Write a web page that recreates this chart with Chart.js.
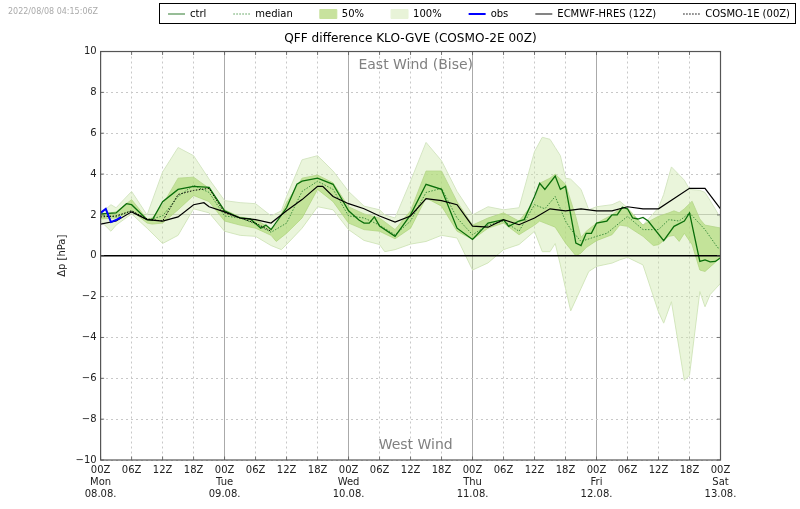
<![CDATA[<!DOCTYPE html>
<html><head><meta charset="utf-8">
<style>html,body{margin:0;padding:0;background:#fff}canvas{display:block}</style>
<script src="https://cdn.jsdelivr.net/npm/chart.js@4"></script></head>
<body><canvas id="c" width="800" height="509"></canvas>
<script>
const hours100=[0,2,3,6,9,12,15,18,21,24,27,30,33,35,36,39,42,45,48,51,54,55,57,60,63,66,69,72,75,78,81,84,85.5,87,88,89,90,91,93,94.5,96,99,100.5,102,105,108,109,110.5,113,114,116,117,118,120];
const top100=[2.05,2.5,2.35,3.15,2.0,4.1,5.3,4.9,3.75,2.7,2.6,2.55,1.95,2.2,2.9,4.7,4.9,4.15,3.15,2.43,2.25,2.0,1.85,3.65,5.55,4.65,3.15,2.0,2.4,2.25,2.35,5.1,5.8,5.7,5.3,4.9,3.8,3.75,3.25,2.25,2.4,2.5,2.67,2.35,1.5,2.35,3.0,4.35,3.7,3.25,3.2,3.1,2.7,1.85];
const bot100=[1.7,1.2,1.5,2.05,1.35,0.6,1.0,2.3,2.1,1.2,1.0,0.95,0.5,0.3,0.55,1.35,2.4,2.25,1.28,0.75,0.55,0.2,0.3,0.57,0.7,1.0,0.87,-0.7,-0.35,0.3,0.55,1.2,0.2,0.2,0.6,-0.45,-1.6,-2.7,-1.6,-0.77,-0.52,-0.36,-0.2,-0.08,-0.45,-2.75,-3.3,-2.25,-6.1,-5.85,-1.75,-2.5,-1.9,-1.35];
const hours50=[0,3,6,9,10,12,15,18,21,24,27,30,33,34,36,39,42,45,48,51,54,57,60,63,66,69,72,75,78,81,84,85,87,88,90,92,93,94,96,99,100.5,102,105,107,108,110,111,112,113,114.5,116,117,120];
const top50=[2.0,2.15,2.75,1.8,1.85,2.5,3.8,3.85,3.3,2.25,1.9,1.77,1.33,1.5,2.6,3.8,3.95,3.57,2.4,2.05,1.85,1.28,2.2,4.15,4.15,2.65,1.5,1.85,2.1,1.7,2.65,3.55,3.8,4.0,3.5,1.9,0.9,1.2,1.6,2.0,2.3,2.3,1.5,1.8,1.93,2.1,2.2,2.1,2.3,2.67,1.8,1.5,1.36];
const bot50=[1.8,1.85,2.2,1.6,1.55,1.6,2.25,2.95,2.65,1.7,1.5,1.35,1.0,0.7,1.1,1.85,3.25,2.65,1.6,1.28,1.2,0.83,1.35,2.83,2.43,1.2,0.8,1.35,1.6,1.03,1.5,1.7,1.5,1.4,0.62,0,0.13,0.4,0.74,1.03,1.5,1.44,0.95,0.5,0.54,0.95,1.0,0.7,1.1,0.54,-0.7,-0.77,-0.1];
const ctrlHours=[0,3,5,6,9,10,12,15,18,21,24,27,29,31,32,33,36,38,39,42,45,48,50,51,52,53,54,57,60,63,66,69,72,75,78,79,81,82,84,85,86,88,89,90,92,93,94,95,96,98,99,100,101,102,103,104,105,106,109,111,113,114,116,117,118,119,120];
const ctrl=[2.05,2.1,2.55,2.5,1.77,1.75,2.65,3.25,3.4,3.35,2.2,1.85,1.8,1.35,1.5,1.28,2.35,3.5,3.65,3.8,3.5,2.2,1.75,1.6,1.6,1.9,1.45,0.95,2.0,3.5,3.25,1.35,0.8,1.6,1.77,1.44,1.7,1.77,2.9,3.55,3.25,3.9,3.25,3.4,0.62,0.5,1.1,1.1,1.6,1.7,2.0,2.0,2.37,2.3,1.85,1.8,1.88,1.7,0.74,1.44,1.7,2.1,-0.28,-0.2,-0.3,-0.28,-0.1];
const medianHours=[0,3,6,9,12,15,18,21,24,27,30,33,36,39,42,45,48,51,54,57,60,63,66,69,72,75,78,81,84,86,88,90,91,93,96,98,102,105,108,110,112,114,117,119.5,120];
const median=[2.0,1.9,2.2,1.75,1.95,2.9,3.45,3.1,1.95,1.85,1.55,1.15,1.6,3.15,3.65,3.25,1.95,1.85,1.5,1.03,1.7,3.1,3.3,1.85,1.03,1.5,1.7,1.2,2.5,2.3,2.9,1.7,1.3,0.7,0.95,1.1,1.93,1.28,1.28,1.77,1.7,2.1,1.28,0.38,0.38];
const obsHours=[0,1,2,3,4];
const obs=[2.1,2.3,1.65,1.75,1.9];
const ecmwfHours=[0,3,6,9,12,15,18,20,21,24,27,30,33,36,39,42,43,45,48,51,54,57,60,63,66,69,72,75,78,81,84,87,90,93,96,99,102,105,108,114,117,120];
const ecmwf=[1.55,1.7,2.15,1.77,1.7,1.9,2.5,2.6,2.4,2.15,1.85,1.77,1.6,2.2,2.75,3.4,3.4,2.9,2.55,2.3,1.95,1.65,1.95,2.8,2.7,2.5,1.45,1.4,1.77,1.52,1.85,2.3,2.2,2.3,2.2,2.2,2.4,2.3,2.3,3.3,3.3,2.3];
const cosmoHours=[0,3,6,9,12,15,18,21,24,27,30,33];
const cosmo=[1.9,1.95,2.2,1.8,1.7,3.0,3.2,3.3,2.1,1.85,1.6,1.2];
const dayNames=['Mon','Tue','Wed','Thu','Fri','Sat'];
const dayDates=['08.08.','09.08.','10.08.','11.08.','12.08.','13.08.'];
const yTicks=[-10,-8,-6,-4,-2,0,2,4,6,8,10];
const pts=(xs,ys)=>xs.map((x,i)=>({x,y:ys[i]}));
const FONT='"DejaVu Sans"';
const line=(label,xs,ys,color,width,dash,extra)=>Object.assign({label,data:pts(xs,ys),borderColor:color,backgroundColor:color,borderWidth:width,borderDash:dash||[],pointRadius:0,tension:0,fill:false},extra||{});
const legendMeta={ctrl:['line','#5f9a5f',1.3,[]],median:['line','#4f9a4f',1,[1.5,1.5]],'50%':['rect','#c8e29e',1],'100%':['rect','#e8f3d8',1],obs:['line','#0000ff',2,[]],'ECMWF-HRES (12Z)':['line','#333',1.2,[]],'COSMO-1E (00Z)':['line','#000',1,[1.5,1.5]]};
const extras={
 id:'extras',
 beforeLayout(ch){const l=ch.legend;if(l&&!l.__wide){l.__wide=true;const u=l.update.bind(l);l.update=(w,h,m)=>u(Math.max(w,720),h,m);}},
 afterLayout(ch){const a=ch.chartArea;ch.legend.right=790+27;ch.titleBlock.left=a.left;ch.titleBlock.right=a.right;},
 beforeDraw(ch){const c=ch.ctx;c.save();c.fillStyle='#aaa';c.font='8px '+FONT;c.textBaseline='middle';c.textAlign='left';c.fillText('2022/08/08 04:15:06Z',8,11.5);c.restore();},
 afterDatasetsDraw(ch){const c=ch.ctx,a=ch.chartArea,x=ch.scales.x,y=ch.scales.y;c.save();
  c.strokeStyle='#000';c.lineWidth=1.6;c.beginPath();c.moveTo(a.left,y.getPixelForValue(0));c.lineTo(a.right,y.getPixelForValue(0));c.stroke();
  c.strokeStyle='#555';c.lineWidth=1.2;c.strokeRect(a.left,a.top,a.right-a.left,a.bottom-a.top);
  c.lineWidth=.8;c.beginPath();
  x.ticks.forEach(t=>{const p=x.getPixelForValue(t.value);c.moveTo(p,a.top);c.lineTo(p,a.top+3.5);c.moveTo(p,a.bottom);c.lineTo(p,a.bottom-3.5);});
  y.ticks.forEach(t=>{const p=y.getPixelForValue(t.value);c.moveTo(a.left,p);c.lineTo(a.left+3.5,p);c.moveTo(a.right,p);c.lineTo(a.right-3.5,p);});
  c.stroke();
  c.fillStyle='#808080';c.font='14px '+FONT;c.textAlign='center';c.textBaseline='middle';
  c.fillText('East Wind (Bise)',x.getPixelForValue(61),y.getPixelForValue(9.3));
  c.fillText('West Wind',x.getPixelForValue(61),y.getPixelForValue(-9.3));
  c.strokeStyle='#000';c.lineWidth=1;c.strokeRect(159.5,3.5,636,20);
  c.restore();}
};
new Chart(document.getElementById('c'),{type:'line',
 data:{datasets:[
  line('ctrl',ctrlHours,ctrl,'#0a6e0a',1.3,[],{order:1}),
  line('median',medianHours,median,'#3f8f3f',1,[1.5,1.5],{order:2}),
  line('50%',hours50,top50,'#b5d68a',.8,[],{fill:'+1',backgroundColor:'rgba(170,215,110,.6)',order:3}),
  line('50% low',hours50,bot50,'#b5d68a',.8,[],{order:4}),
  line('100%',hours100,top100,'#d5e6c3',1,[],{fill:'+1',backgroundColor:'rgba(205,230,170,.42)',order:5}),
  line('100% low',hours100,bot100,'#d5e6c3',1,[],{order:6}),
  line('obs',obsHours,obs,'#0000ff',2,[],{order:-1}),
  line('ECMWF-HRES (12Z)',ecmwfHours,ecmwf,'#000',1.2,[],{order:0}),
  line('COSMO-1E (00Z)',cosmoHours,cosmo,'#000',1,[1.5,1.5],{order:0})
 ]},
 options:{responsive:false,animation:false,parsing:false,normalized:true,
  layout:{padding:{left:56,right:79.5,top:-18,bottom:5}},
  plugins:{
   title:{display:true,text:'QFF difference KLO-GVE (COSMO-2E 00Z)',color:'#000',font:{family:FONT,size:12.1,weight:'normal'},padding:{top:3,bottom:5},weight:2000},
   legend:{position:'top',align:'end',weight:3000,
    labels:{usePointStyle:true,pointStyleWidth:17,boxHeight:9,padding:27,color:'#222',font:{family:FONT,size:10},
     generateLabels(ch){return ch.data.datasets.filter(d=>legendMeta[d.label]).map(d=>{const m=legendMeta[d.label];return{text:d.label,pointStyle:m[0],fillStyle:m[1],strokeStyle:m[1],lineWidth:m[2],lineDash:m[3]||[],datasetIndex:ch.data.datasets.indexOf(d)};});}}},
   tooltip:{enabled:false}},
  scales:{
   x:{type:'linear',min:0,max:120,
    border:{display:false,dash:c=>c.tick&&c.tick.value%24===0?[]:[2,3]},
    grid:{drawTicks:false,color:c=>c.tick&&c.tick.value%24===0?'#aaa':'#c8c8c8',lineWidth:1},
    ticks:{stepSize:6,autoSkip:false,maxRotation:0,padding:4,color:'#222',font:{family:FONT,size:10,lineHeight:1.2},
     callback(v){const hh=String(v%24).padStart(2,'0')+'Z';if(v%24)return hh;const i=v/24;return [hh,dayNames[i],dayDates[i]];}}},
   y:{type:'linear',min:-10,max:10,
    afterBuildTicks(s){s.ticks=yTicks.map(value=>({value}));},
    border:{display:false,dash:c=>c.tick&&c.tick.value===2?[]:[2,3]},
    grid:{drawTicks:false,color:c=>c.tick&&c.tick.value===2?'#bbb':'#c8c8c8',lineWidth:1},
    ticks:{padding:4,color:'#222',font:{family:FONT,size:10},callback:v=>String(v).replace('-','\u2212')},
    title:{display:true,text:'\u0394p [hPa]',color:'#222',font:{family:FONT,size:10},padding:{top:0,bottom:3.5}}}
  }},
 plugins:[extras]});
</script></body></html>]]>
